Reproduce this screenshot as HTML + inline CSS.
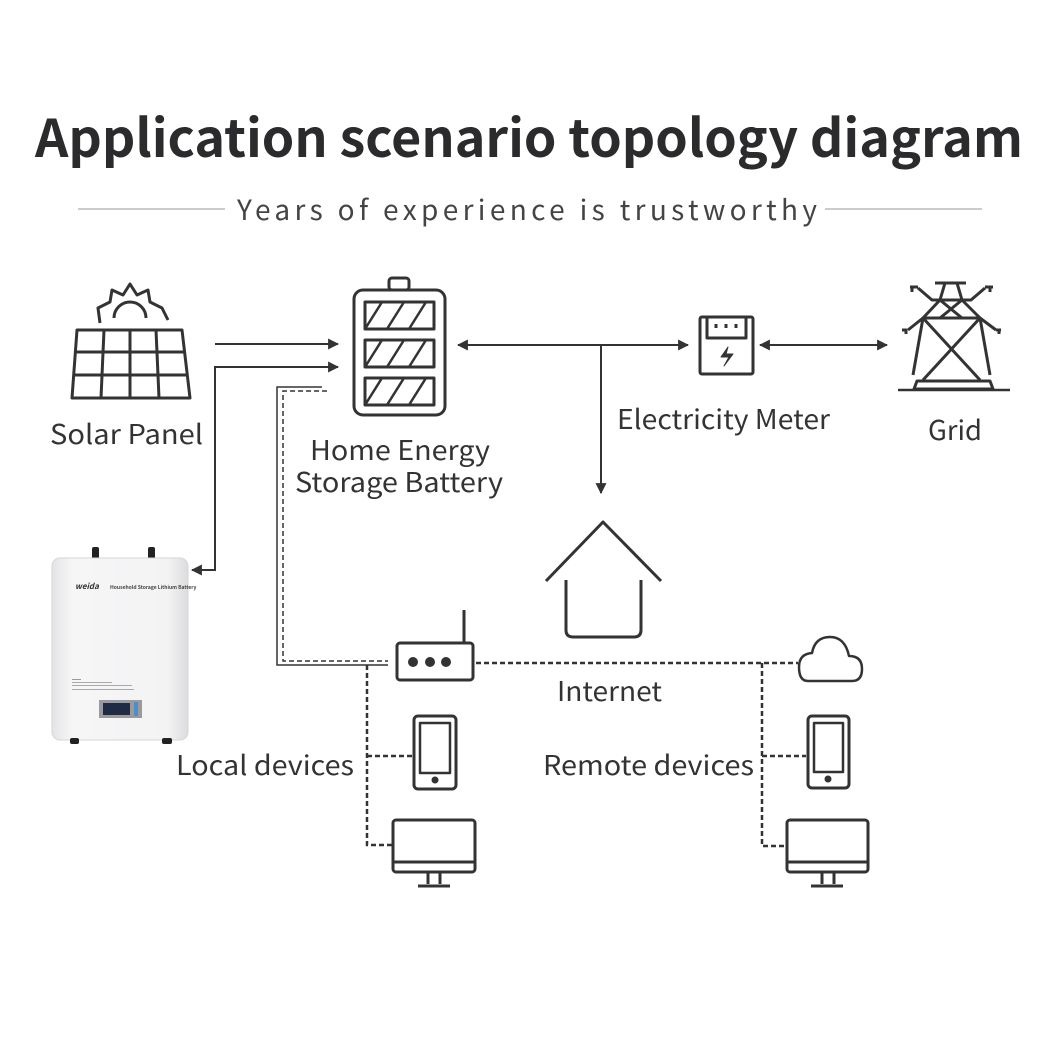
<!DOCTYPE html>
<html><head><meta charset="utf-8"><style>
html,body{margin:0;padding:0;background:#fff;}
svg{display:block;}
text{font-family:"Noto Sans CJK SC","Liberation Sans",sans-serif;fill:#333;}
</style></head><body>
<svg width="1060" height="1050" viewBox="0 0 1060 1050" xmlns="http://www.w3.org/2000/svg">
<defs>
<marker id="ah" viewBox="0 0 10 10" refX="9" refY="5" markerWidth="11" markerHeight="11" markerUnits="userSpaceOnUse" orient="auto-start-reverse"><path d="M0,0 L10,5 L0,10 z" fill="#333"/></marker>
<linearGradient id="wb" x1="0" x2="1" y1="0" y2="0"><stop offset="0" stop-color="#e4e4e6"/><stop offset="0.15" stop-color="#f6f6f7"/><stop offset="0.85" stop-color="#f3f3f4"/><stop offset="1" stop-color="#dcdcde"/></linearGradient>
</defs>
<rect width="1060" height="1050" fill="#fff"/>
<text x="529" y="157" font-size="52" font-weight="bold" text-anchor="middle" textLength="988" lengthAdjust="spacingAndGlyphs" style="fill:#2b2b2d">Application scenario topology diagram</text>
<line x1="78" y1="209" x2="225" y2="209" stroke="#999" stroke-width="1"/>
<line x1="825" y1="209" x2="982" y2="209" stroke="#999" stroke-width="1"/>
<text x="527" y="220" font-size="28" text-anchor="middle" textLength="580" lengthAdjust="spacing" style="fill:#444">Years of experience is trustworthy</text>

<g stroke="#333" stroke-width="3" fill="none" stroke-linejoin="round">
<path d="M100,323 L98,308 L110,302 L112,290 L123,295 L130,284 L137,295 L148,290 L150,302 L162,308 L168,320"/>
<path d="M114,318 A16,16 0 0 1 146,318"/>
<path d="M77,330 L182,330 L190,398 L72,398 Z"/>
<path d="M75,352 L185,352 M74,375 L188,375 M104,330 L101,398 M130,330 L130,398 M156,330 L159,398"/>
<rect x="354" y="290" width="91" height="125" rx="9"/>
<rect x="389" y="278" width="20" height="12" rx="3"/>
<rect x="365" y="302" width="69" height="27"/>
<rect x="365" y="340" width="69" height="27"/>
<rect x="365" y="378" width="69" height="27"/>
<path d="M365,329 L382,302 M387,329 L404,302 M409,329 L426,302 M365,367 L382,340 M387,367 L404,340 M409,367 L426,340 M365,405 L382,378 M387,405 L404,378 M409,405 L426,378" stroke-width="2.5"/>
<rect x="700" y="317" width="53" height="57" rx="2"/>
<path d="M707,317 L707,338 L746,338 L746,317"/>
<path d="M716,324 v4 M726,324 v4 M736,324 v4"/>
<path d="M728,347 L721,357 L729,357 L724,366 L733,354 L726,354 Z" fill="#333" stroke-width="1"/>
<path d="M898,390 L1010,390" stroke-width="2.5"/>
<path d="M914,389 L917,381 L990,381 L993,389 Z"/>
<path d="M935,283 L966,283 M945,283 L940,300 L923,318 L913,375 M957,283 L962,300 L980,318 L990,375"/>
<path d="M918,288 L932,300 L971,300 L985,288 M912,288 v4 M990,288 v4 M918,287 h-8 M985,287 h8"/>
<path d="M908,330 L923,318 L980,318 L996,330 M907,330 h-5 M996,330 h5 M906,329 v5 M999,329 v5"/>
<path d="M940,300 L962,318 M962,300 L940,318 M923,318 L980,380 M980,318 L923,380"/>
<path d="M546,581 L603,522 L661,581" stroke-width="3"/>
<path d="M566,580 L566,630 Q566,637 573,637 L634,637 Q641,637 641,630 L641,580"/>
<rect x="397" y="643" width="76" height="37" rx="3"/>
<line x1="464" y1="610" x2="464" y2="643"/>
<circle cx="413" cy="662" r="3.5" fill="#333"/><circle cx="430" cy="662" r="3.5" fill="#333"/><circle cx="446" cy="662" r="3.5" fill="#333"/>
<rect x="414" y="716" width="42" height="73" rx="4"/>
<rect x="420" y="723" width="30" height="50" stroke-width="2.5"/>
<circle cx="435" cy="780" r="2" fill="#333"/>
<rect x="808" y="716" width="41" height="72" rx="4"/>
<rect x="814" y="723" width="29" height="49" stroke-width="2.5"/>
<circle cx="828" cy="779" r="2" fill="#333"/>
<rect x="393" y="820" width="82" height="52" rx="3"/>
<line x1="393" y1="862" x2="475" y2="862"/>
<path d="M428,872 v12 M440,872 v12 M418,886 h32"/>
<rect x="787" y="820" width="81" height="52" rx="3"/>
<line x1="787" y1="862" x2="868" y2="862"/>
<path d="M822,872 v12 M834,872 v12 M811,886 h32"/>
<path d="M808,681 L852,681 Q862,681 862,669 Q862,656 849,656 Q845,637 830,637 Q815,637 812,653 Q799,654 799,667 Q799,681 808,681 Z" stroke-width="2.5"/>
</g>

<g stroke="#333" stroke-width="2" fill="none">
<line x1="215" y1="344" x2="338" y2="344" marker-end="url(#ah)"/>
<path d="M338,367 L215,367 L215,570 L192,570" marker-start="url(#ah)" marker-end="url(#ah)"/>
<line x1="458" y1="345" x2="688" y2="345" marker-start="url(#ah)" marker-end="url(#ah)"/>
<line x1="601" y1="345" x2="601" y2="493" marker-end="url(#ah)"/>
<line x1="760" y1="345" x2="887" y2="345" marker-start="url(#ah)" marker-end="url(#ah)"/>
<path d="M322,387 L277,387 L277,665 L388,665" stroke-width="1.5"/>
</g>
<g stroke="#333" stroke-width="2" fill="none" stroke-dasharray="5,3">
<path d="M327,391 L283,391 L283,661 L388,661" stroke-width="1.5"/>
<path d="M367,665 L367,845 L393,845 M367,756 L412,756" stroke-width="2.5"/>
<path d="M476,663 L798,663 M762,663 L762,846 L787,846 M762,756 L806,756" stroke-width="2.5"/>
</g>

<g>
<rect x="92" y="547" width="7" height="12" rx="2" fill="#222"/>
<rect x="148" y="547" width="7" height="12" rx="2" fill="#222"/>
<rect x="52" y="558" width="136" height="182" rx="8" fill="url(#wb)" stroke="#d6d6d8"/>
<rect x="70" y="738" width="9" height="6" rx="2" fill="#222"/>
<rect x="162" y="738" width="10" height="6" rx="2" fill="#222"/>
<text x="75" y="589" font-size="8" font-weight="bold" style="fill:#333;font-style:italic">weida</text>
<text x="110" y="589" font-size="5" font-weight="bold" style="fill:#444">Household Storage Lithium Battery</text>
<rect x="72" y="679" width="9" height="1" fill="#999"/>
<rect x="72" y="682" width="40" height="1" fill="#aaa"/>
<rect x="72" y="685" width="60" height="1" fill="#aaa"/>
<rect x="72" y="689" width="62" height="1" fill="#aaa"/>
<rect x="99" y="700" width="43" height="18" fill="#9a9a9c"/>
<rect x="103" y="703" width="27" height="12" fill="#1f2a44"/>
<rect x="134" y="702" width="4" height="14" fill="#4a90c8"/>
</g>

<g font-size="27" lengthAdjust="spacingAndGlyphs">
<text x="50" y="444" textLength="153" lengthAdjust="spacingAndGlyphs">Solar Panel</text>
<text x="310" y="460" textLength="180" lengthAdjust="spacingAndGlyphs">Home Energy</text>
<text x="295" y="492" textLength="208" lengthAdjust="spacingAndGlyphs">Storage Battery</text>
<text x="617" y="429" textLength="213" lengthAdjust="spacingAndGlyphs">Electricity Meter</text>
<text x="928" y="440" textLength="54" lengthAdjust="spacingAndGlyphs">Grid</text>
<text x="557" y="701" textLength="105" lengthAdjust="spacingAndGlyphs">Internet</text>
<text x="176" y="775" textLength="178" lengthAdjust="spacingAndGlyphs">Local devices</text>
<text x="543" y="775" textLength="211" lengthAdjust="spacingAndGlyphs">Remote devices</text>
</g>
</svg>
</body></html>
